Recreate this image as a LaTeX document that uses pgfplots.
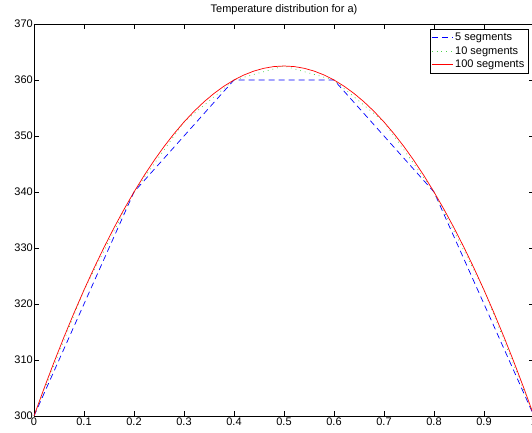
\documentclass[border=0pt]{standalone}
\usepackage{pgfplots}
\pgfplotsset{compat=1.18}
\usepackage{fontspec}
\setmainfont{Liberation Sans}

\definecolor{mblue}{rgb}{0,0,1}
\definecolor{mgreen}{rgb}{0,0.75,0}
\definecolor{mred}{rgb}{1,0,0}

\begin{document}
\begin{tikzpicture}
\begin{axis}[
  scale only axis, width=500pt, height=392pt,
  xmin=0, xmax=1, ymin=300, ymax=370,
  xtick={0,0.1,0.2,0.3,0.4,0.5,0.6,0.7,0.8,0.9,1},
  ytick={300,310,320,330,340,350,360,370},
  tick align=inside, major tick length=5pt,
  tick style={black, line width=0.5pt},
  axis line style={line width=0.8pt},
  font=\fontsize{11}{13}\selectfont,
  /pgf/number format/assume math mode=true,
  /pgf/number format/fixed,
  xticklabel style={inner sep=1.5pt},
  yticklabel style={inner sep=1pt},
  title={Temperature distribution for a)},
  title style={yshift=1pt, inner sep=2pt},
  legend cell align=left,
  legend style={at={(0.988,0.987)}, anchor=north east,
    inner sep=1.5pt, row sep=0.5pt,
    font=\fontsize{11}{13}\selectfont},
]
\addplot[mblue, line width=0.7pt, dash pattern=on 6pt off 4pt, forget plot] coordinates {
  (0,300) (0.2,340) (0.4,360) (0.6,360) (0.8,340) (1,300)
};
\addplot[mgreen!70, line width=0.7pt, dash pattern=on 0.8pt off 4pt, forget plot] coordinates {
  (0,300) (0.1,322.5) (0.2,340) (0.3,352.5) (0.4,360) (0.5,362.5)
  (0.6,360) (0.7,352.5) (0.8,340) (0.9,322.5) (1,300)
};
\addplot[mred, line width=0.7pt, forget plot] table {
x y
0.00 300.0
0.02 304.9
0.04 309.6
0.06 314.1
0.08 318.4
0.10 322.5
0.12 326.4
0.14 330.1
0.16 333.6
0.18 336.9
0.20 340.0
0.22 342.9
0.24 345.6
0.26 348.1
0.28 350.4
0.30 352.5
0.32 354.4
0.34 356.1
0.36 357.6
0.38 358.9
0.40 360.0
0.42 360.9
0.44 361.6
0.46 362.1
0.48 362.4
0.50 362.5
0.52 362.4
0.54 362.1
0.56 361.6
0.58 360.9
0.60 360.0
0.62 358.9
0.64 357.6
0.66 356.1
0.68 354.4
0.70 352.5
0.72 350.4
0.74 348.1
0.76 345.6
0.78 342.9
0.80 340.0
0.82 336.9
0.84 333.6
0.86 330.1
0.88 326.4
0.90 322.5
0.92 318.4
0.94 314.1
0.96 309.6
0.98 304.9
1.00 300.0
};
% legend samples with their colours given on the path itself
\addlegendimage{legend image code/.code={\draw[draw=mblue, line width=0.7pt, dash pattern=on 6pt off 4pt] (0pt,0pt) -- (21pt,0pt);}}
\addlegendentry{5 segments}
\addlegendimage{legend image code/.code={\draw[draw=mgreen!70, line width=0.7pt, dash pattern=on 0.8pt off 4pt] (0pt,0pt) -- (21pt,0pt);}}
\addlegendentry{10 segments}
\addlegendimage{legend image code/.code={\draw[draw=mred, line width=0.7pt] (0pt,0pt) -- (21pt,0pt);}}
\addlegendentry{100 segments}
\end{axis}
\pgfresetboundingbox
\path[use as bounding box] ([xshift=-34pt,yshift=-17pt]current axis.south west)
  rectangle ([xshift=-2pt,yshift=24pt]current axis.north east);
\end{tikzpicture}
\end{document}
